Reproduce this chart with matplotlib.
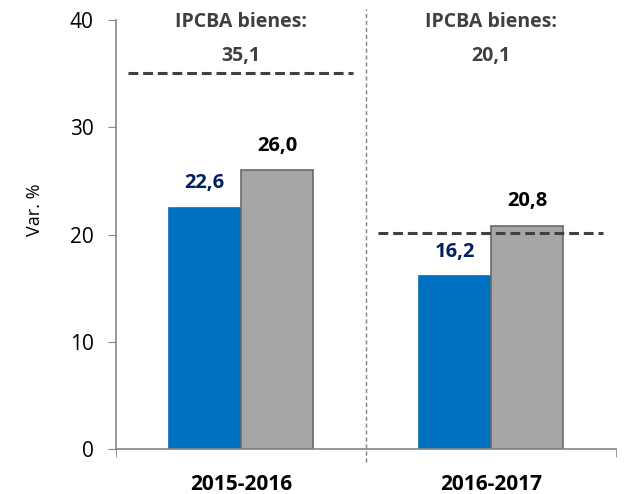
import matplotlib.pyplot as plt
import numpy as np

# datos
categorias = ['2015-2016', '2016-2017']
serie_azul = [22.6, 16.2]
serie_gris = [26.0, 20.8]
ipcba_bienes = [35.1, 20.1]
etiquetas_ipcba = ['35,1', '20,1']

plt.rcParams['font.family'] = ['Open Sans', 'DejaVu Sans']

fig = plt.figure(figsize=(6.4, 4.94), dpi=100)
ax = fig.add_axes([0.181, 0.091, 0.7815, 0.8685])

x = np.arange(len(categorias))
w = 0.29
ax.bar(x - w / 2, serie_azul, w, color='#0070C0', edgecolor='#0070C0', linewidth=0.5, zorder=2)
ax.bar(x + w / 2, serie_gris, w, color='#A6A6A6', edgecolor='#6A6A6A', linewidth=1.2, zorder=2)

def fmt(v):
    return f'{v:.1f}'.replace('.', ',')

for i in range(len(categorias)):
    ax.text(x[i] - w / 2, serie_azul[i] + 2.2, fmt(serie_azul[i]), ha='center', va='center',
            fontsize=14.5, fontweight='bold', color='#002060')
    ax.text(x[i] + w / 2, serie_gris[i] + 2.3, fmt(serie_gris[i]), ha='center', va='center',
            fontsize=14.5, fontweight='bold', color='black')
    # linea IPCBA bienes
    ax.plot([x[i] - 0.45, x[i] + 0.45], [ipcba_bienes[i], ipcba_bienes[i]], ls=(0, (3.2, 1.6)),
            color='#404040', lw=2.2, zorder=3)
    ax.text(x[i], 39.8, 'IPCBA bienes:', ha='center', va='center',
            fontsize=14, fontweight='bold', color='#404040')
    ax.text(x[i], 36.6, etiquetas_ipcba[i], ha='center', va='center',
            fontsize=14, fontweight='bold', color='#404040')

ax.set_xlim(-0.5, 1.5)
ax.set_ylim(0, 40)
ax.set_yticks([0, 10, 20, 30, 40])
fig.text(35 / 640, 0.575, 'Var. %', rotation=90, ha='center', va='center', fontsize=13)

# separador vertical
ax.plot([0.5, 0.5], [-0.03, 1.025], transform=ax.get_xaxis_transform(), ls=(0, (3, 2)),
        color='#808080', lw=1, clip_on=False, zorder=1)

ax.set_xticks(x)
ax.set_xticklabels(categorias, fontsize=15, fontweight='bold')
ax.tick_params(axis='x', length=0, pad=18)
ax.set_xticks([-0.5, 1.5], minor=True)
ax.tick_params(axis='x', which='minor', length=6, color='#868686')
ax.tick_params(axis='y', length=6, color='#868686', labelsize=15, pad=10)

for s in ['top', 'right']:
    ax.spines[s].set_visible(False)
for s in ['left', 'bottom']:
    ax.spines[s].set_color('#868686')
    ax.spines[s].set_linewidth(1.2)

fig.savefig('out.png', dpi=100)
